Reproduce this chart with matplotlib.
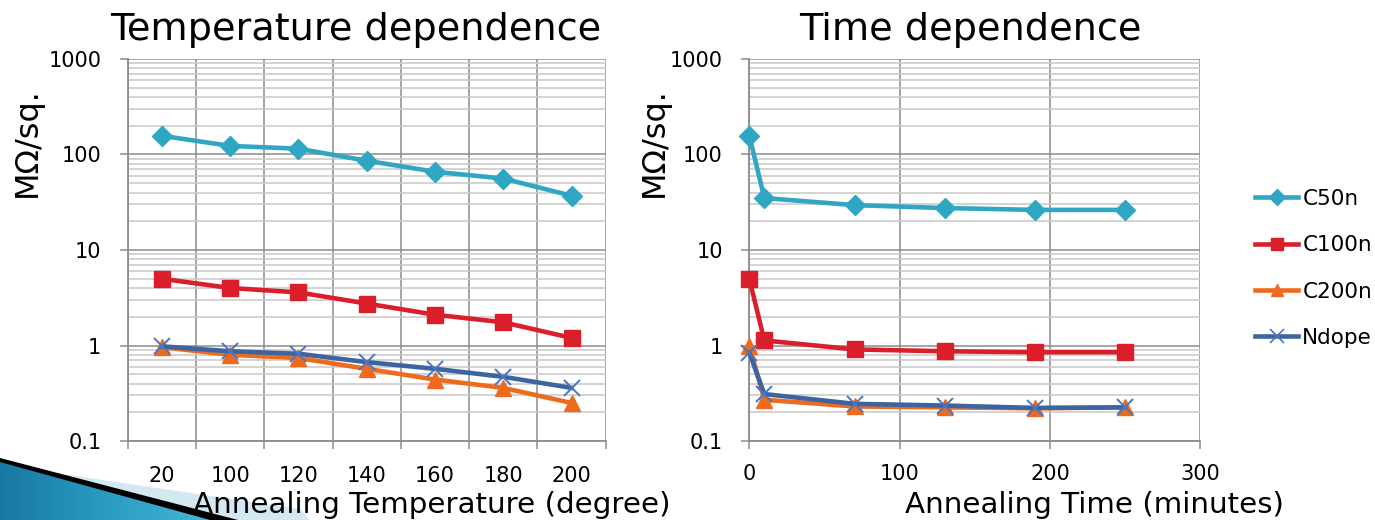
import numpy as np
import matplotlib
matplotlib.use("Agg")
import matplotlib.pyplot as plt
from matplotlib.lines import Line2D
from matplotlib.patches import Polygon
from matplotlib.colors import LinearSegmentedColormap
from matplotlib.ticker import LogLocator, FixedLocator, NullFormatter

plt.rcParams['font.family'] = ['DejaVu Sans']

# ---------------- data ----------------
temp_labels = ["20", "100", "120", "140", "160", "180", "200"]
temp_C50n = [157, 123, 115, 86, 66, 56, 37]
temp_C100n = [5.0, 4.0, 3.6, 2.75, 2.1, 1.75, 1.2]
temp_C200n = [0.96, 0.80, 0.74, 0.57, 0.44, 0.36, 0.25]
temp_Ndope = [0.98, 0.87, 0.82, 0.67, 0.57, 0.47, 0.36]

time_minutes = [0, 10, 70, 130, 190, 250]
time_C50n = [158, 35, 29.5, 27.5, 26.3, 26.3]
time_C100n = [5.0, 1.13, 0.91, 0.87, 0.85, 0.85]
time_C200n = [1.0, 0.27, 0.23, 0.225, 0.22, 0.225]
time_Ndope = [0.84, 0.31, 0.245, 0.235, 0.222, 0.225]

series_names = ["C50n", "C100n", "C200n", "Ndope"]
series_colors = ["#2EA6C4", "#DA1F2B", "#EE6B1E", "#3C64A0"]
marker_colors = ["#2EA6C4", "#DA1F2B", "#EE6B1E", "#4A76C0"]
series_markers = ["D", "s", "^", "x"]
series_ms = [10, 11, 11, 12]

W, H = 1375, 520
fig = plt.figure(figsize=(W / 100, H / 100), dpi=100)
fig.patch.set_facecolor("white")


def fx(px):
    return px / W


def fy(py):
    return 1 - py / H


ax_bottom = fy(441)
ax_height = (441 - 59) / H
ax1 = fig.add_axes([fx(127.7), ax_bottom, (605.7 - 127.7) / W, ax_height])
ax2 = fig.add_axes([fx(749.3), ax_bottom, (1200.3 - 749.3) / W, ax_height])

MAJ = "#8C8C8C"
MIN = "#C8C8C8"


def style_axis(ax):
    ax.set_yscale("log")
    ax.set_ylim(0.1, 1000)
    ax.yaxis.set_minor_locator(LogLocator(base=10, subs=np.arange(2, 10), numticks=20))
    ax.yaxis.set_minor_formatter(NullFormatter())
    ax.set_yticks([0.1, 1, 10, 100, 1000])
    ax.set_yticklabels(["0.1", "1", "10", "100", "1000"])
    ax.grid(which="major", axis="y", color=MAJ, lw=1.1)
    ax.grid(which="minor", axis="y", color=MIN, lw=1.1)
    ax.tick_params(axis="y", which="major", length=6, width=1.1, color=MAJ,
                   pad=13, labelsize=15)
    ax.tick_params(axis="y", which="minor", length=0)
    for s in ["top", "right"]:
        ax.spines[s].set_visible(False)
    for s in ["left", "bottom"]:
        ax.spines[s].set_color(MAJ)
        ax.spines[s].set_linewidth(1.3)
    ax.set_axisbelow(True)


style_axis(ax1)
style_axis(ax2)

# left panel: categorical
xcat = np.arange(len(temp_labels))
ax1.set_xlim(-0.5, len(temp_labels) - 0.5)
ax1.set_xticks(xcat)
ax1.set_xticklabels(temp_labels)
ax1.xaxis.set_minor_locator(FixedLocator(np.arange(-0.5, len(temp_labels), 1.0)))
ax1.grid(which="minor", axis="x", color=MAJ, lw=1.1)
ax1.tick_params(axis="x", which="major", length=0, pad=18, labelsize=15)
ax1.tick_params(axis="x", which="minor", length=5.5, width=1.1, color=MAJ)

temp_series = [temp_C50n, temp_C100n, temp_C200n, temp_Ndope]
for vals, c, mc, m, ms in zip(temp_series, series_colors, marker_colors, series_markers, series_ms):
    ax1.plot(xcat, vals, color=c, lw=3.3, marker=m, ms=ms, mfc=mc, mec=mc,
             mew=1.4 if m == "x" else 1.0, clip_on=False, zorder=3)

# right panel: numeric
ax2.set_xlim(0, 300)
ax2.set_xticks([0, 100, 200, 300])
ax2.set_xticklabels(["0", "100", "200", "300"])
ax2.grid(which="major", axis="x", color=MAJ, lw=1.1)
ax2.tick_params(axis="x", which="major", length=5.5, width=1.1, color=MAJ,
                pad=11, labelsize=15)

time_series = [time_C50n, time_C100n, time_C200n, time_Ndope]
for vals, c, mc, m, ms in zip(time_series, series_colors, marker_colors, series_markers, series_ms):
    ax2.plot(time_minutes, vals, color=c, lw=3.3, marker=m, ms=ms, mfc=mc, mec=mc,
             mew=1.4 if m == "x" else 1.0, clip_on=False, zorder=3)

# titles & labels
fig.text(fx(356), fy(40), "Temperature dependence", ha="center", va="baseline", fontsize=27.5)
fig.text(fx(970), fy(40), "Time dependence", ha="center", va="baseline", fontsize=27.5)
fig.text(fx(432), fy(513), "Annealing Temperature (degree)", ha="center", va="baseline", fontsize=21.2)
fig.text(fx(1094), fy(513), "Annealing Time (minutes)", ha="center", va="baseline", fontsize=21.2)
fig.text(fx(27), fy(142), "M\u03a9/sq.", ha="center", va="center", rotation=90, fontsize=23)
fig.text(fx(654), fy(142), "M\u03a9/sq.", ha="center", va="center", rotation=90, fontsize=23)

# legend
handles = [Line2D([0], [0], color=c, lw=3.3, marker=m, ms=ms * 0.85, mfc=mc, mec=mc,
                  mew=1.2 if m == "x" else 1.0)
           for c, mc, m, ms in zip(series_colors, marker_colors, series_markers, series_ms)]
fig.legend(handles, series_names, loc="upper left", bbox_to_anchor=(fx(1255), fy(189)),
           frameon=False, fontsize=15.5, handlelength=2.0, handletextpad=0.2,
           labelspacing=1.22, borderaxespad=0, borderpad=0)

# decorative slide arrow (bottom-left)
dax = fig.add_axes([0, 0, 320 / W, 70 / H])
dax.axis("off")
dax.patch.set_alpha(0)
pale = Polygon([(55, 473), (300, 509), (310, 520), (230, 520)], closed=True,
               facecolor="#D3E8F1", edgecolor="none", zorder=1)
dax.add_patch(pale)
black = Polygon([(0, 458), (238, 520), (0, 520)], closed=True, facecolor="black",
                edgecolor="none", zorder=2)
dax.add_patch(black)
blue = Polygon([(0, 462), (210, 520), (0, 520)], closed=True, facecolor="none",
               edgecolor="none", zorder=3)
dax.add_patch(blue)
grad = np.linspace(0, 1, 256).reshape(1, -1)
cmap = LinearSegmentedColormap.from_list("g", ["#1878A2", "#2A9CC2", "#44B6D6"])
im = dax.imshow(grad, extent=(0, 212, 520, 460), aspect="auto", cmap=cmap, zorder=4)
im.set_clip_path(blue)
dax.set_xlim(0, 320)
dax.set_ylim(520, 450)

fig.savefig("out.png", dpi=100)
